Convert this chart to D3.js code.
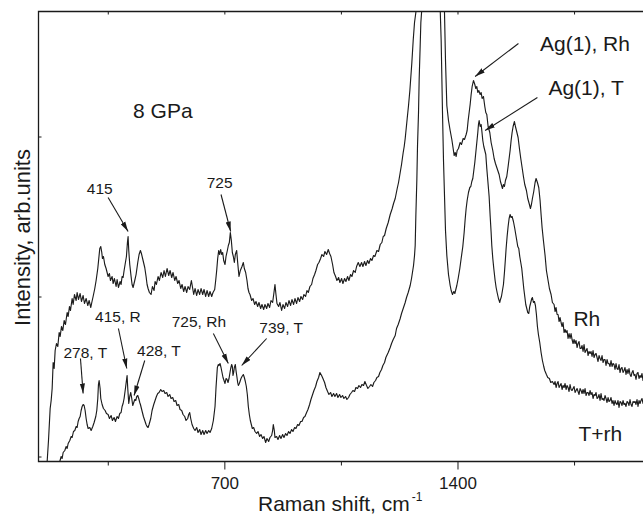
<!DOCTYPE html>
<html>
<head>
<meta charset="utf-8">
<script src="https://cdn.jsdelivr.net/npm/d3@7"></script>
<style>
  html, body { margin: 0; padding: 0; background: #fff; }
  svg text { font-family: "Liberation Sans", Arial, Helvetica, sans-serif; fill: #1a1a1a; }
</style>
</head>
<body>
<script>
// Raman spectra at 8 GPa: rhombohedral (Rh) and mixed tetragonal + rhombohedral (T+rh) phases.
// Each spectrum is a list of [Raman shift (cm^-1), intensity (arb. units)].

const rhSpectrum = [
[168,0],[172,21],[177,53],[180,61],[183,73],[186,99],[189,93],[192,111],[196,118],[200,115],[204,129],[207,125],[211,135],[215,131],[219,141],[223,137],[228,149],[231,145],[235,155],[238,151],[243,163],[246,157],[250,167],[255,161],[258,169],[262,162],[267,168],[271,160],[276,166],[280,158],[285,163],[290,156],[294,161],[299,154],[302,159],[306,165],[311,173],[315,181],[320,193],[323,203],[326,213],[329,215],[332,209],[334,203],[337,205],[341,197],[345,193],[348,189],[351,185],[355,188],[358,181],[363,185],[366,178],[370,183],[375,175],[378,182],[382,174],[387,180],[390,177],[393,185],[396,184],[399,191],[402,197],[406,205],[409,219],[411,225],[413,211],[416,197],[420,185],[423,177],[426,174],[431,181],[435,187],[440,199],[444,207],[448,211],[451,208],[456,201],[461,194],[465,185],[468,177],[471,173],[475,169],[480,167],[484,175],[489,171],[492,180],[496,177],[501,185],[505,181],[510,189],[515,184],[519,191],[523,185],[528,193],[533,186],[537,191],[542,184],[546,189],[551,181],[555,185],[560,178],[564,181],[569,173],[573,177],[578,170],[582,175],[587,169],[591,175],[596,172],[601,181],[605,173],[608,167],[612,173],[617,166],[621,172],[626,167],[630,173],[635,167],[639,172],[644,165],[648,171],[653,165],[657,170],[662,165],[666,169],[671,172],[674,181],[677,191],[680,203],[683,211],[686,207],[689,212],[692,207],[695,209],[698,201],[702,197],[705,205],[709,211],[712,216],[715,219],[718,229],[721,221],[724,209],[727,205],[730,199],[733,207],[737,211],[740,199],[744,185],[748,191],[753,195],[757,199],[760,193],[764,189],[768,181],[771,173],[774,169],[777,167],[782,161],[786,163],[791,157],[795,160],[800,155],[804,159],[809,153],[813,157],[818,152],[822,157],[827,153],[831,158],[836,154],[840,161],[845,159],[849,169],[852,177],[855,167],[858,158],[863,155],[867,159],[872,151],[876,157],[881,153],[885,159],[890,155],[894,161],[899,156],[903,162],[908,157],[912,163],[917,158],[921,164],[926,160],[930,165],[935,162],[939,167],[944,165],[948,171],[952,169],[957,175],[962,177],[966,183],[971,187],[975,191],[980,197],[984,199],[989,203],[993,207],[998,205],[1002,210],[1007,207],[1012,212],[1016,208],[1020,205],[1025,197],[1029,189],[1034,185],[1038,181],[1043,184],[1047,179],[1052,183],[1056,178],[1061,183],[1065,180],[1070,185],[1074,181],[1079,187],[1083,185],[1088,191],[1093,189],[1097,195],[1102,199],[1107,195],[1112,199],[1116,195],[1121,200],[1125,196],[1130,201],[1134,198],[1139,203],[1143,201],[1148,206],[1152,205],[1158,211],[1163,210],[1168,217],[1173,219],[1177,225],[1181,226],[1186,233],[1192,239],[1198,247],[1204,253],[1208,258],[1213,263],[1219,273],[1223,279],[1228,289],[1232,297],[1237,309],[1240,315],[1243,323],[1246,333],[1249,343],[1253,356],[1257,371],[1260,385],[1263,399],[1267,421],[1271,439],[1275,449],
[1285,560],[1300,800],[1322,1100],[1340,820],[1352,600],
[1361,449],[1364,401],[1368,356],[1373,341],[1378,331],[1383,322],[1387,313],[1390,306],[1393,309],[1396,305],[1399,311],[1403,313],[1408,319],[1412,317],[1417,323],[1421,322],[1426,327],[1429,331],[1432,341],[1435,349],[1438,357],[1441,367],[1444,375],[1448,381],[1452,377],[1455,373],[1458,375],[1461,369],[1464,371],[1468,367],[1471,369],[1474,363],[1478,365],[1482,355],[1485,349],[1488,347],[1492,335],[1497,329],[1501,319],[1506,311],[1510,303],[1514,298],[1519,293],[1525,287],[1529,280],[1535,273],[1538,277],[1541,275],[1544,281],[1548,285],[1552,295],[1555,303],[1558,311],[1561,321],[1564,329],[1567,335],[1571,340],[1574,335],[1577,331],[1582,324],[1586,313],[1590,303],[1594,294],[1598,285],[1602,277],[1607,271],[1611,263],[1616,257],[1619,253],[1622,257],[1625,263],[1629,270],[1633,279],[1636,283],[1640,279],[1644,274],[1648,261],[1651,247],[1654,234],[1658,221],[1663,206],[1667,191],[1672,181],[1676,173],[1681,167],[1685,159],
[1690,157],[1693,150],[1696,154],[1699,147],[1702,147],[1705,140],[1708,144],[1711,139],[1714,135],[1717,139],[1720,129],[1723,132],[1726,129],[1729,131],[1732,123],[1735,128],[1738,123],[1741,128],[1744,122],[1747,118],[1750,122],[1753,118],[1756,121],[1759,114],[1762,118],[1765,120],[1768,113],[1771,113],[1774,116],[1777,110],[1780,117],[1783,109],[1786,111],[1789,113],[1792,106],[1795,110],[1798,108],[1801,110],[1804,105],[1807,111],[1810,104],[1813,107],[1816,108],[1819,104],[1822,100],[1825,106],[1828,103],[1831,101],[1834,106],[1837,99],[1840,102],[1843,102],[1846,96],[1849,102],[1852,98],[1855,98],[1858,95],[1861,101],[1864,95],[1867,98],[1870,97],[1873,92],[1876,98],[1879,93],[1882,92],[1885,97],[1888,89],[1891,93],[1894,94],[1897,89],[1900,91],[1903,94],[1906,87],[1909,92],[1912,88],[1915,93],[1918,87],[1921,85],[1924,89],[1927,91],[1930,86],[1933,87],[1936,82],[1939,88],[1942,89],[1945,83],[1948,86],[1951,84],[1954,88],[1957,81],[1960,86]
];

const trhSpectrum = [
[206,0],[210,5],[213,3],[216,9],[221,11],[225,15],[228,13],[231,18],[236,21],[240,25],[243,24],[247,30],[251,31],[255,35],[258,34],[261,40],[264,43],[267,45],[270,51],[273,55],[276,57],[279,56],[282,51],[285,43],[288,37],[291,33],[296,34],[300,31],[305,35],[309,39],[314,45],[317,51],[320,63],[322,77],[324,81],[327,73],[329,63],[333,57],[337,53],[342,51],[346,48],[351,47],[355,43],[360,46],[364,41],[369,44],[373,40],[378,45],[382,43],[386,48],[390,49],[393,55],[396,58],[399,63],[403,73],[406,81],[408,86],[410,73],[413,58],[416,65],[419,69],[422,63],[425,56],[428,59],[431,62],[434,61],[437,65],[440,66],[443,63],[446,59],[448,57],[451,53],[454,49],[457,45],[461,41],[465,37],[468,35],[471,34],[474,37],[479,43],[483,51],[488,57],[492,61],[496,65],[500,68],[504,69],[509,72],[513,70],[518,71],[522,68],[527,69],[531,65],[536,67],[540,63],[545,64],[549,60],[554,61],[558,56],[563,57],[567,52],[572,51],[576,47],[581,45],[585,41],[590,43],[593,47],[596,49],[599,43],[603,37],[608,33],[612,31],[617,34],[621,29],[626,32],[630,27],[635,31],[639,27],[644,31],[648,28],[653,31],[657,29],[662,33],[667,41],[672,55],[675,74],[679,94],[682,97],[684,96],[687,98],[690,94],[693,89],[696,84],[699,81],[702,78],[705,83],[708,82],[711,79],[714,83],[717,89],[719,93],[722,97],[724,95],[726,86],[728,89],[730,94],[733,97],[735,91],[738,84],[740,79],[742,76],[745,78],[747,80],[750,83],[753,85],[757,87],[760,84],[763,80],[766,75],[769,67],[772,55],[775,47],[778,41],[781,37],[784,33],[788,34],[792,30],[797,28],[801,30],[806,25],[810,27],[815,23],[819,25],[824,19],[828,23],[833,20],[837,24],[842,26],[845,31],[847,37],[850,31],[852,24],[857,25],[861,22],[866,26],[870,23],[875,27],[879,24],[884,28],[888,26],[893,30],[897,28],[902,32],[906,30],[911,34],[915,33],[920,37],[924,36],[929,40],[933,40],[938,44],[942,45],[947,49],[951,52],[956,57],[960,62],[965,67],[969,71],[974,75],[978,80],[983,84],[987,89],[992,86],[996,83],[1001,79],[1005,74],[1010,70],[1014,67],[1019,69],[1023,65],[1028,68],[1032,65],[1037,68],[1041,64],[1046,67],[1050,64],[1055,66],[1059,63],[1064,65],[1068,62],[1073,64],[1077,67],[1082,69],[1086,71],[1091,70],[1095,74],[1100,73],[1104,76],[1109,74],[1113,77],[1118,76],[1122,80],[1127,76],[1131,73],[1136,75],[1140,77],[1145,75],[1149,79],[1154,81],[1158,84],[1163,85],[1167,89],[1172,92],[1176,96],[1181,99],[1185,104],[1192,109],[1198,114],[1202,118],[1207,122],[1213,126],[1217,133],[1222,137],[1228,143],[1232,148],[1237,153],[1243,159],[1247,164],[1252,169],[1258,176],[1262,183],[1268,196],[1271,206],[1273,216],[1275,246],[1278,282],[1280,316],[1283,349],[1285,383],[1288,416],[1290,439],[1293,453],
[1305,900],[1320,1400],[1335,900],
[1348,453],[1351,421],[1355,349],[1358,301],[1361,266],[1364,231],[1368,206],[1373,187],[1378,176],[1381,171],[1385,167],[1389,170],[1392,168],[1395,172],[1398,176],[1402,183],[1407,193],[1411,203],[1416,215],[1420,229],[1423,242],[1426,253],[1429,261],[1433,269],[1437,274],[1440,275],[1443,280],[1446,283],[1449,291],[1452,299],[1455,309],[1458,319],[1461,329],[1463,337],[1465,341],[1468,335],[1471,337],[1473,331],[1476,321],[1479,315],[1482,311],[1485,307],[1488,293],[1491,281],[1495,265],[1498,246],[1501,229],[1503,216],[1506,203],[1509,193],[1513,181],[1516,174],[1519,169],[1523,163],[1527,159],[1529,162],[1532,165],[1535,171],[1538,177],[1541,189],[1544,203],[1546,213],[1549,225],[1552,235],[1555,243],[1558,247],[1561,244],[1564,245],[1568,240],[1572,233],[1575,227],[1578,221],[1581,215],[1584,213],[1587,205],[1590,199],[1593,193],[1596,183],[1599,173],[1602,165],[1605,157],[1608,153],[1611,149],[1614,148],[1617,155],[1620,159],[1623,163],[1625,164],[1628,159],[1631,160],[1634,156],[1637,147],[1640,135],[1643,127],[1647,119],[1651,109],[1655,101],[1659,95],[1662,91],[1667,87],[1671,84],[1676,83],[1680,79],[1685,80],
[1690,77],[1693,80],[1696,74],[1699,78],[1702,80],[1705,74],[1708,76],[1711,78],[1714,72],[1717,76],[1720,74],[1723,78],[1726,72],[1729,76],[1732,74],[1735,70],[1738,77],[1741,72],[1744,71],[1747,73],[1750,75],[1753,69],[1756,71],[1759,73],[1762,70],[1765,67],[1768,73],[1771,71],[1774,68],[1777,72],[1780,68],[1783,73],[1786,66],[1789,69],[1792,69],[1795,66],[1798,71],[1801,67],[1804,69],[1807,63],[1810,67],[1813,66],[1816,69],[1819,63],[1822,64],[1825,67],[1828,61],[1831,68],[1834,62],[1837,63],[1840,61],[1843,66],[1846,63],[1849,59],[1852,64],[1855,60],[1858,61],[1861,64],[1864,58],[1867,61],[1870,56],[1873,61],[1876,58],[1879,57],[1882,61],[1885,54],[1888,60],[1891,59],[1894,56],[1897,61],[1900,57],[1903,58],[1906,55],[1909,60],[1912,59],[1915,56],[1918,62],[1921,57],[1924,55],[1927,60],[1930,59],[1933,60],[1936,57],[1939,62],[1942,55],[1945,61],[1948,58],[1951,61],[1954,63],[1957,58],[1960,60]
];

// Axis ticks
const xLabelledTicks = [700, 1400];
const xMinorTicks = [350, 1050, 1750];
const yTicks = [5, 165, 325];

// Large labels: text, shift, intensity
const labelTexts   = ["8 GPa", "Ag(1), Rh", "Ag(1), T", "Rh", "T+rh"];
const labelShifts  = [426, 1648, 1673, 1748, 1763];
const labelLevels  = [344, 411, 367, 136, 21];

// Peak annotations
const peakTexts    = ["415", "725", "415, R", "278, T", "428, T", "725, Rh", "739, T"];
const peakShifts   = [287, 647, 312, 217, 438, 542, 805];
const peakLevels   = [268, 274, 140, 104, 106, 135, 129];

// Arrows: start [shift, intensity] -> tip [shift, intensity]
const arrowFrom = [[351,264],[690,267],[1583,418],[1640,364],[382,133],[268,103],[461,101],[667,128],[827,123]];
const arrowTo   = [[411,230],[719,230],[1453,385],[1483,331],[407,93],[276,68],[429,66],[712,98],[752,96]];

const W = 643, H = 515;
const plotLeft = 38.5, plotRight = 643, plotTop = 11.5, plotBottom = 461.5;

const svg = d3.select("body").append("svg")
  .attr("width", W).attr("height", H);

const x = d3.scaleLinear().domain([142, 1957]).range([plotLeft, plotRight]);
const y = d3.scaleLinear().domain([0, 450]).range([plotBottom, plotTop]);

const defs = svg.append("defs");
defs.append("clipPath").attr("id", "plotArea")
  .append("rect").attr("x", plotLeft).attr("y", plotTop)
  .attr("width", plotRight - plotLeft).attr("height", plotBottom - plotTop);

const marker = defs.append("marker")
  .attr("id", "head")
  .attr("markerUnits", "userSpaceOnUse")
  .attr("viewBox", "0 0 10 6")
  .attr("refX", 10).attr("refY", 3)
  .attr("markerWidth", 10).attr("markerHeight", 6)
  .attr("orient", "auto");
marker.append("path").attr("d", "M0,0.4 L10,3 L0,5.6 Z").attr("fill", "#1a1a1a");

// Spectra
const line = d3.line().x(d => x(d[0])).y(d => y(d[1]));
const curves = svg.append("g").attr("clip-path", "url(#plotArea)");
[rhSpectrum, trhSpectrum].forEach(s => {
  curves.append("path").datum(s)
    .attr("d", line)
    .attr("fill", "none")
    .attr("stroke", "#1c1c1c")
    .attr("stroke-width", 1.15)
    .attr("stroke-linejoin", "round");
});

// Axes
const axisStyle = g => {
  g.select(".domain").remove();
  g.selectAll("line").attr("stroke", "#1a1a1a").attr("stroke-width", 1);
};

svg.append("g").attr("transform", `translate(0,${plotBottom})`)
  .call(d3.axisBottom(x).tickValues(xLabelledTicks).tickSize(8).tickPadding(7.4).tickFormat(d3.format("d")))
  .call(axisStyle)
  .call(g => g.selectAll("text").attr("font-size", 17).attr("fill", "#1a1a1a")
    .style("font-family", "'Liberation Sans', Arial, sans-serif"));

svg.append("g").attr("transform", `translate(0,${plotBottom})`)
  .call(d3.axisBottom(x).tickValues(xMinorTicks).tickSize(4).tickFormat(""))
  .call(axisStyle);

svg.append("g").attr("transform", `translate(0,${plotTop})`)
  .call(d3.axisTop(x).tickValues(xMinorTicks.concat(xLabelledTicks)).tickSize(-3).tickFormat(""))
  .call(axisStyle);

svg.append("g").attr("transform", `translate(${plotLeft},0)`)
  .call(d3.axisLeft(y).tickValues(yTicks).tickSize(-3).tickFormat(""))
  .call(axisStyle);

// Frame (left, top, bottom)
svg.append("path")
  .attr("d", `M${plotRight},${plotTop} H${plotLeft} V${plotBottom} H${plotRight}`)
  .attr("fill", "none").attr("stroke", "#1a1a1a").attr("stroke-width", 1.3);

// Axis titles
svg.append("text")
  .attr("transform", `translate(29.5,${(plotTop + plotBottom) / 2 + 1}) rotate(-90)`)
  .attr("text-anchor", "middle")
  .attr("font-size", 22)
  .text("Intensity, arb.units");

const xt = svg.append("text").attr("x", 258).attr("y", 511).attr("font-size", 21);
xt.append("tspan").text("Raman shift, cm");
xt.append("tspan").attr("dx", 2).attr("dy", -10).attr("font-size", 12).text("-1");

// Labels
labelTexts.forEach((t, i) => {
  svg.append("text").attr("x", x(labelShifts[i])).attr("y", y(labelLevels[i]))
    .attr("font-size", 21).text(t);
});
peakTexts.forEach((t, i) => {
  svg.append("text").attr("x", x(peakShifts[i])).attr("y", y(peakLevels[i]))
    .attr("font-size", 15.5).text(t);
});

// Arrows
arrowFrom.forEach((a, i) => {
  const b = arrowTo[i];
  svg.append("line")
    .attr("x1", x(a[0])).attr("y1", y(a[1]))
    .attr("x2", x(b[0])).attr("y2", y(b[1]))
    .attr("stroke", "#1a1a1a").attr("stroke-width", 1.1)
    .attr("marker-end", "url(#head)");
});
</script>
</body>
</html>
